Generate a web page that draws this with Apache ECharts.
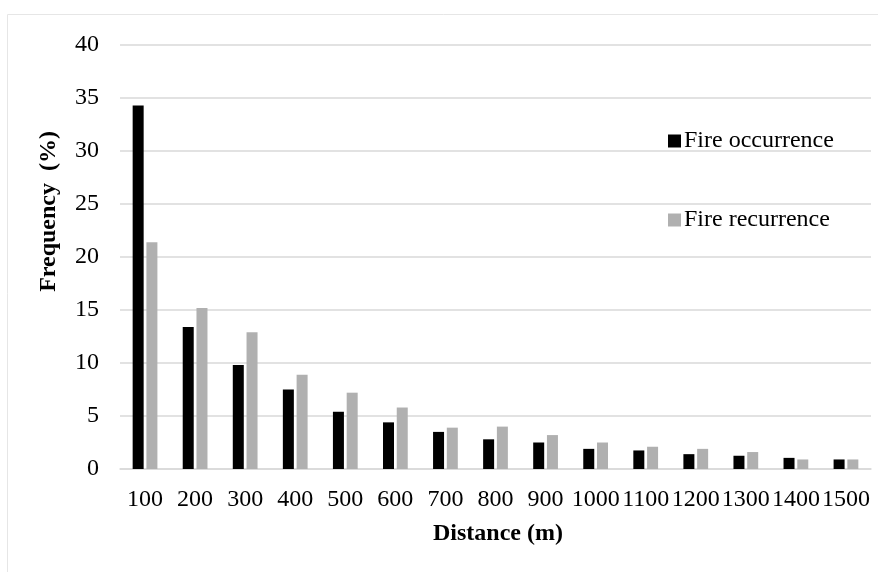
<!DOCTYPE html>
<html>
<head>
<meta charset="utf-8">
<script src="https://cdn.jsdelivr.net/npm/echarts@6/dist/echarts.min.js"></script>
<style>html,body{margin:0;padding:0;background:#fff;}#c{width:878px;height:572px;}</style>
</head>
<body>
<div id="c"></div>
<script>
var categories = ['100','200','300','400','500','600','700','800','900','1000','1100','1200','1300','1400','1500'];
var fireOccurrence = [34.3, 13.4, 9.8, 7.5, 5.4, 4.4, 3.5, 2.8, 2.5, 1.9, 1.75, 1.4, 1.25, 1.05, 0.9];
var fireRecurrence = [21.4, 15.2, 12.9, 8.9, 7.2, 5.8, 3.9, 4.0, 3.2, 2.5, 2.1, 1.9, 1.6, 0.9, 0.9];
var yTicks = {min: 0, max: 40, interval: 5};

var font = '"Liberation Serif", "Times New Roman", serif';
var chart = echarts.init(document.getElementById('c'), null, {renderer: 'canvas'});
chart.setOption({
  backgroundColor: '#ffffff',
  animation: false,
  grid: {left: 120, right: 7, top: 45, bottom: 103, containLabel: false},
  legend: {
    orient: 'vertical',
    left: 663,
    top: 124,
    itemWidth: 13,
    itemHeight: 13,
    itemGap: 55,
    icon: 'rect',
    textStyle: {fontFamily: font, fontSize: 24, color: '#000', padding: [0, 0, 0, -2]},
    data: ['Fire occurrence', 'Fire recurrence']
  },
  xAxis: {
    type: 'category',
    data: categories,
    axisLine: {lineStyle: {color: '#d9d9d9', width: 1.5}},
    axisTick: {show: false},
    axisLabel: {fontFamily: font, fontSize: 24, color: '#000', margin: 19, interval: 0},
    name: 'Distance (m)',
    nameLocation: 'middle',
    nameGap: 53,
    nameTextStyle: {fontFamily: font, fontSize: 24, fontWeight: 'bold', color: '#000', padding: [0, 0, 0, 5]}
  },
  yAxis: {
    type: 'value',
    min: yTicks.min,
    max: yTicks.max,
    interval: yTicks.interval,
    axisLine: {show: false},
    axisTick: {show: false},
    splitLine: {lineStyle: {color: '#d9d9d9', width: 1.5}},
    axisLabel: {fontFamily: font, fontSize: 24, color: '#000', margin: 21}
  },
  graphic: [
    {type: 'rect', z: -1, shape: {x: 7.5, y: 14.5, width: 900, height: 600}, style: {fill: null, stroke: '#e6e6e6', lineWidth: 1}},
    {type: 'text', left: 37, top: 131, rotation: Math.PI / 2, style: {text: 'Frequency  (%)', font: 'bold 24px ' + font, fill: '#000'}}
  ],
  series: [
    {name: 'Fire occurrence', type: 'bar', data: fireOccurrence, barWidth: 11, barGap: '25%', itemStyle: {color: '#000000'}},
    {name: 'Fire recurrence', type: 'bar', data: fireRecurrence, barWidth: 11, barGap: '25%', itemStyle: {color: '#b0b0b0'}}
  ]
});
</script>
</body>
</html>
